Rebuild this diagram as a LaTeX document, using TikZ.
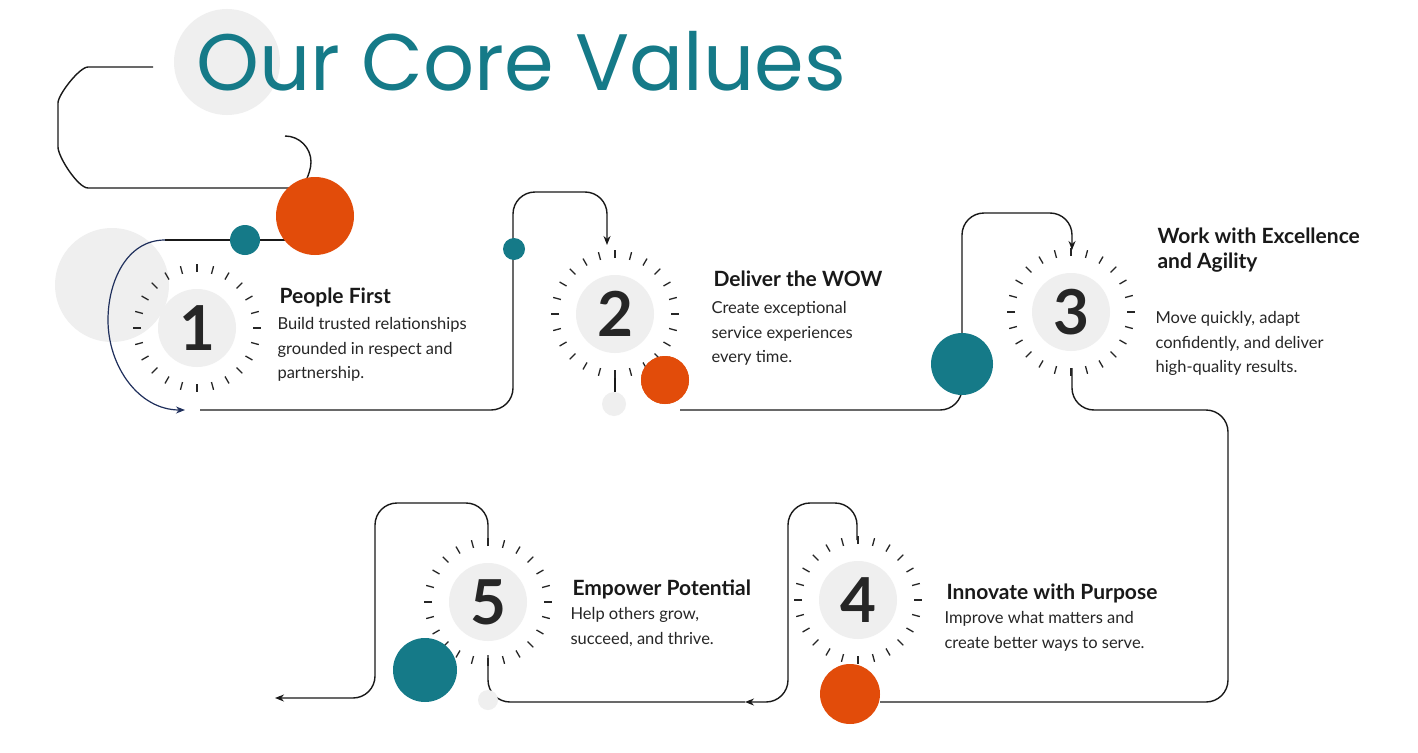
\documentclass[tikz,border=0pt]{standalone}
\usepackage{fontspec}
\setmainfont{Lato}
\newfontfamily\titlefont{Poppins}
\usetikzlibrary{arrows.meta,positioning}
\definecolor{teal}{HTML}{157A88}
\definecolor{orng}{HTML}{E24C0A}
\definecolor{lgrey}{HTML}{EFEFEF}
\definecolor{navy}{HTML}{1F2F5C}
\tikzset{
    dot/.style = {circle, inner sep=0pt, minimum size=#1},
    tdot/.style = {dot=#1, fill=teal},
    odot/.style = {dot=#1, fill=orng},
    gdot/.style = {dot=#1, fill=lgrey},
    num/.style = {gdot=78, font=\fontsize{62}{62}\selectfont\bfseries, text=black!85},
    head/.style = {anchor=base west, font=\fontsize{21}{25}\selectfont\bfseries, text=black!90, align=left},
    body/.style = {anchor=north west, font=\fontsize{16.5}{24.5}\selectfont, text=black!85, align=left},
    path/.style = {line width=1.4pt, black!90, rounded corners=22pt},
    arr/.style = {-{Stealth[length=9pt,width=7pt]}}
}
\newcommand{\tickring}[1]{%
    \foreach \a in {0,15,...,345}
        \draw[line width=1.3pt, black!85] (#1) ++(\a:56) -- ++(\a:8);}
\begin{document}
\begin{tikzpicture}[x=1pt,y=-1pt]
    \useasboundingbox (0,0) rectangle (1418,752);
    \fill[white] (0,0) rectangle (1418,752);
    % background dots
    \node[gdot=106] (gtitle) at (227,62) {};
    \node[gdot=114] (gleft) at (112,285) {};
    \node[font=\titlefont\fontsize{80}{80}\selectfont, text=teal, anchor=base west] (title) at (193,90) {Our Core Values};
    % paths
    \draw[path] (153,67) -- (110,67) to[out=180,in=90] (58,125) to[out=270,in=180] (110,188) -- (285,188)
        arc[start angle=90, end angle=-90, radius=26];
    \draw[line width=1.4pt, black!90] (285,240) -- (165,240);
    \draw[line width=1.2pt, navy, arr] (165,240) to[out=180,in=90] (108,320) to[out=270,in=180] (185,410);
    \draw[path, arr] (200,410) -- (513,410) -- (513,192) -- (607,192) -- (607,245);
    \draw[path] (615,370) -- (615,392);
    \draw[path, arr] (680,410) -- (962,410) -- (962,213) -- (1072,213) -- (1072,250);
    \draw[path] (1072,368) -- (1072,410) -- (1228,410) -- (1228,702) -- (880,702);
    \draw[path, arr] (857,540) -- (857,503) -- (788,503) -- (788,702) -- (745,702);
    \draw[path] (745,702) -- (488,702) -- (488,655);
    \draw[path, arr] (488,540) -- (488,503) -- (375,503) -- (375,698) -- (275,698);
    % accent dots
    \node[odot=78] (o1) at (315,216) {};
    \node[tdot=30] (t1) at (245,240) {};
    \node[tdot=22] (t2) at (514,249) {};
    \node[gdot=24] (g2) at (614,404) {};
    \node[odot=48] (o2) at (665,380) {};
    \node[tdot=62] (t3) at (962,364) {};
    \node[odot=60] (o4) at (850,694) {};
    \node[gdot=20] (g5) at (488,700) {};
    % value markers
    \node[num] (n1) at (197,328) {1}; \tickring{n1.center}
    \node[num] (n2) at (615,314) {2}; \tickring{n2.center}
    \node[num] (n3) at (1071,312) {3}; \tickring{n3.center}
    \node[num] (n4) at (858,600) {4}; \tickring{n4.center}
    \node[num] (n5) at (488,602) {5}; \tickring{n5.center}
    \node[tdot=64] (t5) at (425,670) {};
    \node[odot=48] at (o2) {};
    % texts
    \node[head] (h1) at (276,303) {People First};
    \node[body] (b1) at (274,314) {Build trusted relationships\\grounded in respect and\\partnership.};
    \node[head] (h2) at (710,286) {Deliver the WOW};
    \node[body] (b2) at (708,298) {Create exceptional\\service experiences\\every time.};
    \node[head] (h3) at (1154,268) {Work with Excellence\\and Agility};
    \node[body] (b3) at (1152,308) {Move quickly, adapt\\confidently, and deliver\\high-quality results.};
    \node[head] (h4) at (943,599) {Innovate with Purpose};
    \node[body] (b4) at (941,608) {Improve what matters and\\create better ways to serve.};
    \node[head] (h5) at (569,595) {Empower Potential};
    \node[body] (b5) at (567,604) {Help others grow,\\succeed, and thrive.};
\end{tikzpicture}
\end{document}
